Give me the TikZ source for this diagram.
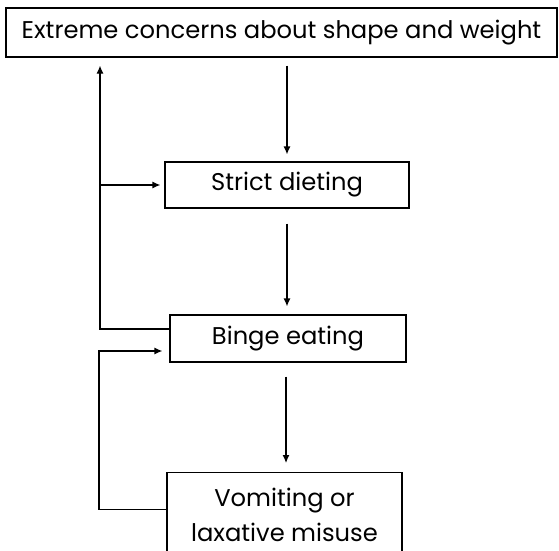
\documentclass[tikz,border=0pt]{standalone}
\usepackage{fontspec}
\setmainfont{Poppins}
\usetikzlibrary{arrows.meta}

\begin{document}
\begin{tikzpicture}[x=1pt,y=-1pt,
    box/.style={draw,line width=1.2pt,inner sep=0pt,align=center,
      font=\fontsize{24.2}{35}\selectfont},
    link/.style={line width=1.2pt,-{Latex[length=8pt,width=7pt]}}]
  \useasboundingbox (0,0) rectangle (559,550);
  \begin{scope}
    \clip (0,0) rectangle (559,550);
    % boxes
    \node[box,minimum width=551pt,minimum height=49pt] (concerns) at (281.5,32.5) {Extreme concerns about shape and weight};
    \node[box,minimum width=244pt,minimum height=46pt] (dieting) at (287,185) {Strict dieting};
    \node[box,minimum width=236pt,minimum height=47pt] (binge) at (288,338.5) {Binge eating};
    \node[box,minimum width=235pt,minimum height=84pt,anchor=north] (vomit) at (284.5,472) {Vomiting or\\laxative misuse};
    % rails on the left
    \coordinate (railA) at (100,0);
    \coordinate (railB) at (99,0);
    \coordinate (entry) at ([yshift=-12.5pt]binge.west);
    % down the chain
    \draw[link,shorten <=8pt,shorten >=7pt] (concerns.south -| dieting.north) -- (dieting.north);
    \draw[link,shorten <=15pt,shorten >=8pt] (dieting.south) -- (dieting.south |- binge.north);
    \draw[link,shorten <=14pt,shorten >=9pt] ([xshift=-2pt]binge.south) -- ([xshift=-2pt]binge.south |- vomit.north);
    % feedback loops
    \draw[link,shorten >=8pt] ([yshift=9.5pt]binge.west) -| (railA |- concerns.south);
    \draw[link,shorten >=4pt] (railA |- dieting.west) -- (dieting.west);
    \draw[link,shorten >=7pt] ([yshift=5pt]vomit.west) -| (railB |- entry) -- (entry);
  \end{scope}
\end{tikzpicture}
\end{document}
